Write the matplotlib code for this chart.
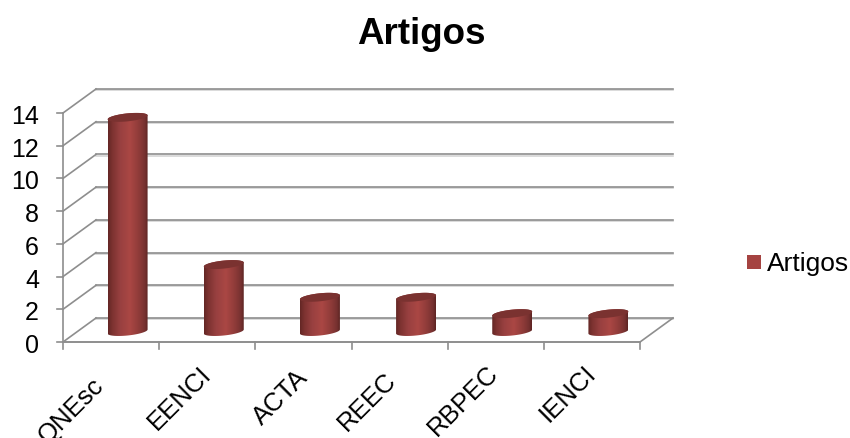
import numpy as np
import matplotlib
matplotlib.use('Agg')
import matplotlib.pyplot as plt
from matplotlib.colors import LinearSegmentedColormap
from matplotlib.patches import Polygon, Rectangle

plt.rcParams['font.family'] = ['Liberation Sans', 'DejaVu Sans']

categories = ['QNEsc', 'EENCI', 'ACTA', 'REEC', 'RBPEC', 'IENCI']
artigos = [13, 4, 2, 2, 1, 1]
y_ticks = [0, 2, 4, 6, 8, 10, 12, 14]

# label centre relative to its tick slot, in pixels
label_dx = [-40, -28, -23, -32, -33, -24]
label_dy = [68, 55, 54, 59, 58, 51]

W, H = 850, 439
left, right, bottom, top = 63, 640, 343, 114
depth_x, depth_y = 33, 24  # floor depth in pixels

fig = plt.figure(figsize=(W / 100, H / 100), dpi=100)
ax = fig.add_axes([left / W, 1 - bottom / H, (right - left) / W, (bottom - top) / H])
ax.set_xlim(0, len(categories))
ax.set_ylim(0, 14)
ax.axis('off')

# pixels per data unit, the depth offset is worked out from them
px_x = (right - left) / len(categories)
px_y = (bottom - top) / 14
dx = depth_x / px_x
dy = depth_y / px_y

grid_col = '#8e8e8e'
shadow_col = '#d4d4d4'
for t in y_ticks:
    ax.plot([dx, len(categories) + dx], [t + dy - 0.07, t + dy - 0.07], color=shadow_col, lw=1.2, clip_on=False, zorder=1)
    ax.plot([dx, len(categories) + dx], [t + dy, t + dy], color=grid_col, lw=1.2, clip_on=False, zorder=2)
    ax.plot([0, dx], [t, t + dy], color=grid_col, lw=1.2, clip_on=False, zorder=2)
    ax.plot([-6 / px_x, 0], [t, t], color=grid_col, lw=1.2, clip_on=False, zorder=2)
    ax.text(-24 / px_x, t - 3 / px_y, str(t), ha='right', va='center', fontsize=18, color='black')

ax.plot([0, 0], [0, 14], color=grid_col, lw=1.2, clip_on=False, zorder=2)
ax.plot([0, len(categories)], [0, 0], color=grid_col, lw=1.4, clip_on=False, zorder=2)
ax.plot([len(categories), len(categories) + dx], [0, dy], color=grid_col, lw=1.2, clip_on=False, zorder=2)
for i in range(len(categories) + 1):
    ax.plot([i, i], [0, -7 / px_y], color=grid_col, lw=1.2, clip_on=False, zorder=2)

for i, name in enumerate(categories):
    ax.annotate(name, xy=(i + 0.5, 0), xytext=(label_dx[i], -label_dy[i]), textcoords='offset pixels',
                rotation=45, rotation_mode='anchor', ha='center', va='center',
                fontsize=18.5, annotation_clip=False)

body_cmap = LinearSegmentedColormap.from_list(
    'body', [(0, '#642725'), (0.1, '#7c3230'), (0.3, '#984040'), (0.55, '#aa4744'),
             (0.8, '#8c3a38'), (0.93, '#763130'), (1, '#5f2523')])
radius = 20 / px_x
semi_minor = 4.0 / px_y
tilt = 2.0 / px_y  # rise of the ellipse from left to right edge


def ellipse_points(cx, cy, start, stop, n=60):
    a = np.linspace(start, stop, n)
    xs = cx + radius * np.cos(a)
    ys = cy + semi_minor * np.sin(a) + tilt * np.cos(a)
    return np.column_stack([xs, ys])


# cylinders stand on the middle of the floor depth
for i, v in enumerate(artigos):
    cx = i + 0.5 + dx / 2
    base = dy / 2 - 1.5 / px_y
    tip = v + dy / 2
    lower = ellipse_points(cx, base, np.pi, 2 * np.pi)
    upper = ellipse_points(cx, tip, 0, np.pi)
    outline = Polygon(np.vstack([lower, upper]), closed=True, facecolor='none', edgecolor='none',
                      transform=ax.transData)
    ax.add_patch(outline)
    img = ax.imshow(np.linspace(0, 1, 64).reshape(1, -1), cmap=body_cmap, aspect='auto',
                    extent=[cx - radius, cx + radius, base - 2, tip + 2], zorder=3)
    img.set_clip_path(outline)
    ax.add_patch(Polygon(ellipse_points(cx, tip, 0, 2 * np.pi), closed=True, facecolor='#7a3230',
                         edgecolor='none', zorder=4, clip_on=False))

ax.set_xlim(0, len(categories))
ax.set_ylim(0, 14)

fig.text(421 / W, 1 - 34 / H, 'Artigos', ha='center', va='center', fontsize=26.5,
         fontweight='bold', color='black')
fig.add_artist(Rectangle((747 / W, 1 - 270 / H), 14 / W, 14 / H, transform=fig.transFigure,
                         facecolor='#a54341', edgecolor='none'))
fig.text(767 / W, 1 - 264 / H, 'Artigos', ha='left', va='center', fontsize=19, color='black')

fig.savefig('out.png', dpi=100)
